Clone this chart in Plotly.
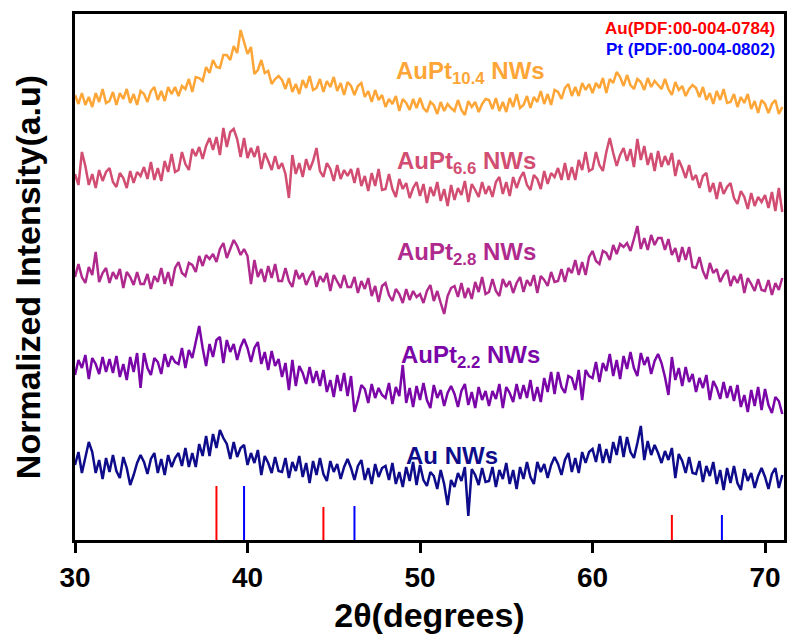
import plotly.graph_objects as go

# 2-theta scan grid (0.2 degree step, 30.0 .. 71.0)
two_theta = [round(30 + 0.2 * i, 1) for i in range(206)]

# Stacked, normalized intensities (arbitrary units, already offset)
aupt104 = [
    445,436,447,435,443,433,447,438,451,437,
    439,448,435,447,441,451,437,446,435,449,
    446,438,449,453,440,449,439,453,446,453,
    444,454,451,461,448,463,462,459,473,467,
    480,473,472,485,485,480,494,487,510,498,
    486,493,466,470,480,467,469,456,461,464,
    460,451,462,448,456,446,460,452,464,450,
    452,461,448,459,453,463,449,457,445,458,
    454,445,454,457,443,449,438,450,440,445,
    433,441,436,444,429,441,437,430,441,432,
    442,432,428,438,435,426,438,429,436,432,
    429,440,430,425,439,433,438,428,436,441,
    440,431,442,429,438,428,442,433,446,432,
    435,444,432,443,438,449,436,446,435,450,
    448,441,452,456,444,453,444,457,450,456,
    447,457,452,462,447,461,457,468,463,454,
    465,455,451,461,458,450,462,453,459,455,
    451,461,451,445,458,450,454,444,451,455,
    452,443,453,440,447,436,449,440,451,437,
    438,446,433,443,437,446,431,439,427,440,
    436,427,436,440,426,433,
]
aupt66 = [
    366,355,388,374,355,366,352,370,359,368,
    372,358,353,367,362,352,369,357,368,364,
    373,361,378,360,372,359,379,368,386,368,
    370,388,376,370,391,384,393,381,394,402,
    390,403,385,412,393,408,411,401,383,402,
    382,392,383,394,371,387,379,370,384,371,
    377,366,342,385,366,377,363,381,370,379,
    392,369,363,377,371,359,375,361,370,364,
    371,357,372,354,364,349,367,354,371,350,
    351,366,351,343,361,351,357,342,352,358,
    344,356,337,353,344,358,339,351,334,355,
    340,352,345,359,338,356,350,343,358,346,
    354,343,358,363,346,358,344,363,352,362,
    368,355,350,365,361,351,369,356,367,363,
    372,360,377,360,373,360,380,370,388,369,
    371,388,375,369,388,402,387,374,385,392,
    379,391,373,401,380,394,375,387,369,389,
    373,384,375,387,364,380,372,362,375,360,
    365,352,364,367,348,357,341,358,346,353,
    357,342,336,349,343,331,347,334,343,338,
    345,332,348,329,352,328,
]
aupt28 = [
    263,276,263,257,273,265,288,258,267,272,
    257,268,261,271,252,268,263,255,268,256,
    256,266,251,264,258,272,256,268,254,272,
    278,267,264,277,275,268,284,274,285,281,
    286,278,291,297,282,292,300,294,285,291,
    284,256,280,263,271,258,274,262,276,259,
    259,272,259,253,270,261,267,255,263,269,
    253,264,258,267,249,265,259,252,265,253,
    253,263,247,259,251,262,244,254,238,254,
    257,245,239,251,246,237,251,240,249,243,
    246,237,249,255,239,249,237,226,244,252,
    254,243,257,242,252,241,258,248,263,246,
    248,261,249,244,261,253,259,247,257,263,
    248,260,254,265,247,264,260,254,268,258,
    259,271,258,272,267,280,265,278,265,283,
    289,279,276,289,287,280,295,286,296,293,
    297,289,301,314,291,302,290,305,295,302,
    302,290,301,285,292,278,293,280,293,273,
    272,283,269,261,277,267,271,258,265,270,
    254,264,257,266,247,262,256,249,261,250,
    249,260,245,257,250,262,
]
aupt22 = [
    165,180,172,185,161,182,176,166,183,168,
    181,167,184,163,176,160,183,168,187,152,
    187,172,165,182,178,166,186,173,184,178,
    176,192,172,190,182,199,214,192,174,196,
    183,200,203,177,200,188,196,180,193,201,
    192,178,192,198,176,188,170,189,174,181,
    163,177,150,180,154,174,167,156,173,157,
    169,154,170,148,160,143,165,149,167,144,
    164,128,140,155,151,137,156,142,152,145,
    142,157,136,153,144,175,137,152,133,154,
    140,157,140,132,155,142,150,134,147,154,
    146,133,149,156,135,148,132,153,140,149,
    134,149,141,156,132,153,147,138,156,141,
    155,142,160,139,153,138,162,148,168,146,
    168,153,147,164,162,150,170,140,170,164,
    162,178,158,177,169,186,164,180,161,184,
    171,188,172,164,187,175,183,166,179,186,
    177,163,145,183,160,172,154,173,158,166,
    148,162,152,165,140,159,152,141,158,142,
    154,139,155,133,145,128,150,134,153,130,
    151,135,127,143,139,126,
]
au = [
    75,88,67,84,98,88,67,80,61,82,
    68,85,69,62,83,72,55,65,77,85,
    78,66,81,87,67,81,65,85,73,82,
    87,74,92,73,87,73,96,84,104,84,
    106,92,110,102,96,81,98,83,92,95,
    75,87,77,90,65,84,77,67,83,69,
    68,82,62,78,69,84,63,77,57,79,
    65,82,66,59,79,68,76,61,73,81,
    72,60,74,80,60,72,56,76,63,72,
    74,60,77,56,68,53,73,59,78,55,
    75,60,54,68,64,51,70,56,35,60,
    53,67,59,73,24,71,65,55,72,58,
    59,73,53,70,61,77,56,70,51,73,
    61,78,63,56,78,68,76,62,75,83,
    76,65,80,87,68,82,67,88,77,88,
    91,78,96,77,91,77,98,85,104,83,
    103,88,82,97,114,80,99,85,95,87,
    77,89,80,92,62,86,79,67,83,67,
    66,79,58,74,64,78,56,70,50,72,
    57,74,57,50,71,59,67,52,64,72,
    63,51,66,72,52,65,
]

# Reference patterns (stick positions and heights)
au_ref_pos = [38.2, 44.4, 64.6]
au_ref_int = [54, 33, 25]
pt_ref_pos = [39.8, 46.2, 67.5]
pt_ref_int = [54, 34, 25]

series_names = ["Au NWs", "AuPt<sub>2.2</sub> NWs", "AuPt<sub>2.8</sub> NWs",
                "AuPt<sub>6.6</sub> NWs", "AuPt<sub>10.4</sub> NWs"]
series_data = [au, aupt22, aupt28, aupt66, aupt104]
series_colors = ["#0E0C8A", "#7A06A8", "#B02A8E", "#D24D72", "#FDA637"]
label_x = [51.85, 52.9, 52.7, 52.7, 52.9]
label_y = [85, 184, 287, 378, 468]

FONT = "Liberation Sans, Arial, sans-serif"

fig = go.Figure()


def sticks(pos, inten):
    xs, ys = [], []
    for p, h in zip(pos, inten):
        xs += [p, p, None]
        ys += [0, h, None]
    return xs, ys


for pos, inten, col in [(au_ref_pos, au_ref_int, "#FF0000"), (pt_ref_pos, pt_ref_int, "#0000FF")]:
    xs, ys = sticks(pos, inten)
    fig.add_trace(go.Scatter(x=xs, y=ys, mode="lines", line=dict(color=col, width=2),
                             showlegend=False, hoverinfo="skip"))

for name, data, col in zip(series_names, series_data, series_colors):
    fig.add_trace(go.Scatter(x=two_theta, y=data, mode="lines", name=name,
                             line=dict(color=col, width=2.5), showlegend=False))

for name, col, lx, ly in zip(series_names, series_colors, label_x, label_y):
    fig.add_annotation(x=lx, y=ly, xref="x", yref="y", text="<b>" + name + "</b>",
                       showarrow=False, font=dict(family=FONT, size=24, color=col),
                       xanchor="center", yanchor="middle")

fig.add_annotation(x=0.99, y=0.973, xref="paper", yref="paper",
                   text="<b>Au(PDF:00-004-0784)</b>", showarrow=False,
                   font=dict(family=FONT, size=17, color="#FF0000"), xanchor="right", yanchor="middle")
fig.add_annotation(x=0.99, y=0.933, xref="paper", yref="paper",
                   text="<b>Pt (PDF:00-004-0802)</b>", showarrow=False,
                   font=dict(family=FONT, size=17, color="#0000FF"), xanchor="right", yanchor="middle")

fig.update_xaxes(range=[30, 71.1], tickvals=[30, 40, 50, 60, 70], ticks="outside",
                 ticklen=10, tickwidth=3, tickcolor="black",
                 showline=True, linewidth=3, linecolor="black", mirror=True,
                 showgrid=False, zeroline=False,
                 tickfont=dict(family=FONT, size=28, color="black", weight="bold"),
                 title=dict(text="2θ(degrees)", standoff=12,
                            font=dict(family=FONT, size=34, color="black", weight="bold")))
fig.update_yaxes(range=[0, 526], showticklabels=False, ticks="",
                 showline=True, linewidth=3, linecolor="black", mirror=True,
                 showgrid=False, zeroline=False,
                 title=dict(text="Normalized Intensity(a.u)", standoff=22,
                            font=dict(family=FONT, size=34, color="black", weight="bold")))

fig.update_layout(width=790, height=636, margin=dict(l=75, r=3, t=14, b=96),
                  plot_bgcolor="white", paper_bgcolor="white")

fig.write_html("out.html")
